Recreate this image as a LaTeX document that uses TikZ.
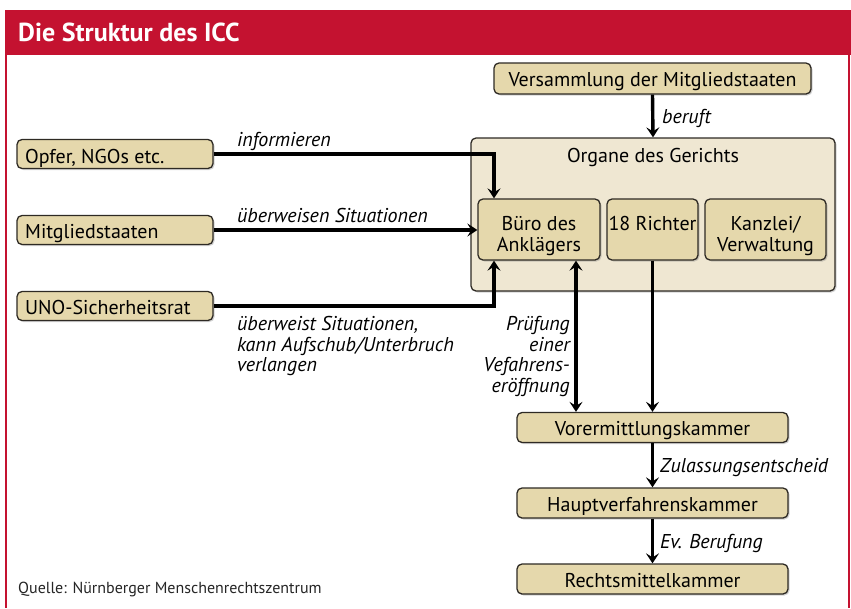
\documentclass[tikz,border=0pt]{standalone}
\usepackage{fontspec}
\setmainfont{PT Sans}
\usetikzlibrary{arrows.meta,shadows}
\definecolor{iccred}{HTML}{C41230}
\definecolor{boxfill}{HTML}{E5D8AC}
\definecolor{orgfill}{HTML}{EFE7D2}
\definecolor{boxline}{HTML}{2E2A24}
\newcommand{\boxfont}{\fontsize{20}{21}\selectfont}
\newcommand{\lblfont}{\fontsize{20}{20.7}\selectfont\itshape}
\tikzset{
  ibox/.style={draw=boxline, line width=1.3pt, rounded corners=5pt, fill=boxfill,
    drop shadow={opacity=0.35, shadow xshift=1.5pt, shadow yshift=-1.5pt},
    inner sep=0pt, font=\boxfont, align=center, text height=16pt, text depth=0pt},
  orgbox/.style={draw=boxline, line width=1.3pt, rounded corners=5pt, fill=orgfill,
    drop shadow={opacity=0.35, shadow xshift=1.5pt, shadow yshift=-1.5pt}},
  tip/.tip={Stealth[length=10pt,width=13pt,inset=4pt]},
  conn/.style={line width=3.4pt, draw=black, -tip},
  conn2/.style={line width=3.4pt, draw=black, tip-tip},
  lbl/.style={font=\lblfont, inner sep=0pt},
  plain/.style={font=\boxfont, inner sep=0pt}
}
\begin{document}
\begin{tikzpicture}[x=1pt,y=-1pt]
\useasboundingbox (0,0) rectangle (851,608);
\fill[white] (0,0) rectangle (851,608);
% frame
\fill[iccred] (5,10) rectangle (851,55);
\draw[iccred, line width=1.2pt] (6,55) -- (6,608);
\draw[iccred, line width=1.2pt] (849,55) -- (849,608);
\node[anchor=base west, text=white, font=\fontsize{26}{28}\selectfont\bfseries, inner sep=0pt] (title) at (18,41) {Die Struktur des ICC};

% court organs
\node[orgbox, minimum width=364pt, minimum height=153pt] (org) at (653,214.5) {};
\node[plain, anchor=base] (orgt) at (653,162) {Organe des Gerichts};
\node[ibox, minimum width=122pt, minimum height=61pt] (buero) at (539,229.5) {};
\node[plain, align=center] (bueroT) at (539,236) {Büro des\\Anklägers};
\node[ibox, minimum width=91pt, minimum height=61pt] (richter) at (652.5,229.5) {};
\node[plain, anchor=base] (richterT) at (652.5,230) {18 Richter};
\node[ibox, minimum width=121pt, minimum height=61pt] (kanzlei) at (765.5,229.5) {};
\node[plain, align=center] (kanzleiT) at (765.5,236) {Kanzlei/\\Verwaltung};

\node[ibox, minimum width=317pt, minimum height=31pt] (vers) at (652.5,78.5) {Versammlung der Mitgliedstaaten};

\node[ibox, minimum width=196pt, minimum height=29pt] (opfer) at (115,154) {};
\node[plain, anchor=base west] (opfert) at (25,163) {Opfer, NGOs etc.};
\node[ibox, minimum width=196pt, minimum height=29pt] (mitgl) at (115,230) {};
\node[plain, anchor=base west] (mitglt) at (25,238) {Mitgliedstaaten};
\node[ibox, minimum width=196pt, minimum height=29pt] (uno) at (115,306) {};
\node[plain, anchor=base west] (unot) at (25,314) {UNO-Sicherheitsrat};

\node[ibox, minimum width=271pt, minimum height=30pt] (vor) at (652.5,427.5) {Vorermittlungskammer};
\node[ibox, minimum width=271pt, minimum height=30pt] (haupt) at (652.5,503) {Hauptverfahrenskammer};
\node[ibox, minimum width=271pt, minimum height=30pt] (rechts) at (652.5,579) {Rechtsmittelkammer};

% connectors
\draw[conn] (vers.south) -- (org.north);
\node[lbl, anchor=base west] (lberuft) at (662,123) {beruft};

\coordinate (bOpfer) at (494,154);
\draw[conn] (opfer.east) -- (bOpfer) -- (bOpfer |- buero.north);
\node[lbl, anchor=base west] (linf) at (237,146) {informieren};

\draw[conn] (mitgl.east) -- (buero.west |- mitgl.east);
\node[lbl, anchor=base west] (lueb) at (237,222) {überweisen Situationen};

\coordinate (bUno) at (494,306);
\draw[conn] (uno.east) -- (bUno) -- (bUno |- buero.south);
\node[lbl, anchor=north west, align=left] (luno) at (237,316) {überweist Situationen,\\kann Aufschub/Unterbruch\\verlangen};

\coordinate (pTop) at (576,0);
\draw[conn2] (pTop |- buero.south) -- (pTop |- vor.north);
\node[lbl, anchor=north east, align=right] (lpr) at (570,316) {Prüfung\\einer\\Vefahrens-\\eröffnung};

\draw[conn] (richter.south) -- (vor.north);
\draw[conn] (vor.south) -- (haupt.north);
\node[lbl, anchor=base west] (lzul) at (660,472) {Zulassungsentscheid};
\draw[conn] (haupt.south) -- (rechts.north);
\node[lbl, anchor=base west] (lev) at (660,548) {Ev. Berufung};

\node[anchor=base west, font=\fontsize{16}{18}\selectfont, inner sep=0pt, text=black!85] (quelle) at (18,593) {Quelle: Nürnberger Menschenrechtszentrum};
\end{tikzpicture}
\end{document}
